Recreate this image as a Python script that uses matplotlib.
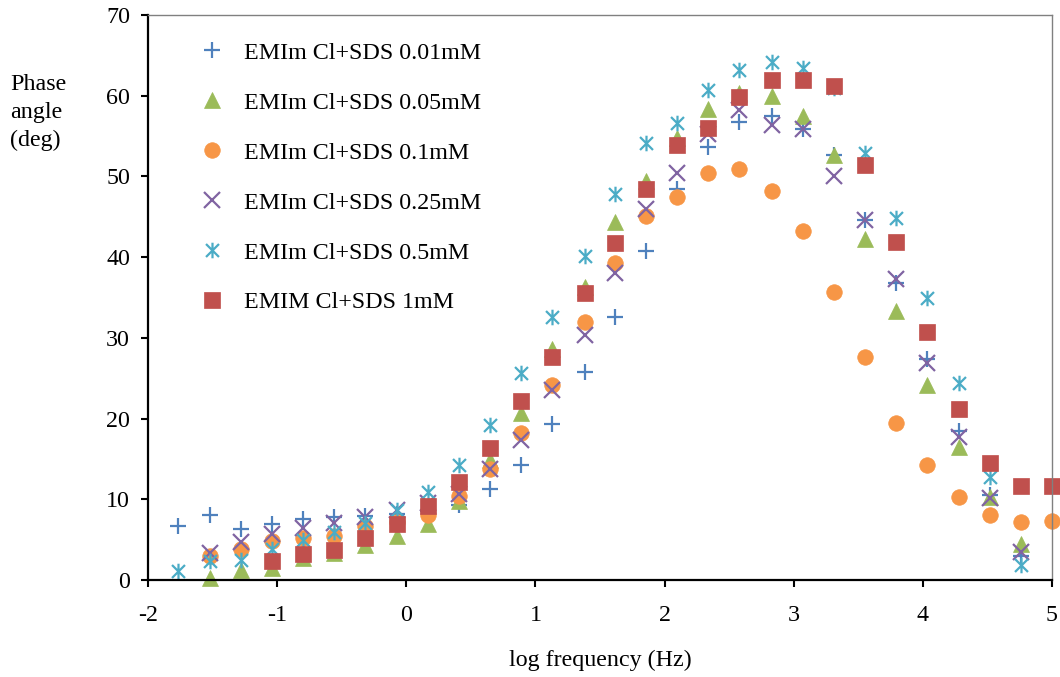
import matplotlib
matplotlib.use("Agg")
import matplotlib.pyplot as plt
from matplotlib.path import Path

plt.rcParams['font.family'] = ['Liberation Serif', 'DejaVu Serif']
plt.rcParams['axes.unicode_minus'] = False

# log frequency positions (ascending)
x_all = [-1.77, -1.52, -1.28, -1.04, -0.80, -0.56, -0.32, -0.07, 0.17, 0.41,
         0.65, 0.89, 1.13, 1.38, 1.62, 1.86, 2.10, 2.34, 2.58, 2.83,
         3.07, 3.31, 3.55, 3.79, 4.03, 4.28, 4.52, 4.76, 5.00]

labels = ["EMIm Cl+SDS 0.01mM", "EMIm Cl+SDS 0.05mM", "EMIm Cl+SDS 0.1mM",
          "EMIm Cl+SDS 0.25mM", "EMIm Cl+SDS 0.5mM", "EMIM Cl+SDS 1mM"]

y_001 = [6.7, 8.1, 6.3, 7.0, 7.6, 7.8, 7.9, 8.2, 8.6, 9.3, 11.3, 14.3, 19.3, 25.8,
         32.6, 40.8, 48.5, 53.6, 56.7, 57.5, 55.9, 52.6, 44.6, 36.8, 27.4, 18.5,
         10.5, 3.0]
x_001 = x_all[0:28]

y_005 = [0.3, 1.3, 1.5, 2.7, 3.4, 4.3, 5.4, 7.0, 9.8, 14.9, 20.7, 28.6, 36.3,
         44.4, 49.4, 54.7, 58.3, 60.3, 60.0, 57.5, 52.6, 42.2, 33.3, 24.2, 16.5,
         10.3, 4.5]
x_005 = x_all[1:28]

y_01 = [3.0, 3.8, 4.8, 5.2, 5.5, 6.7, 7.2, 8.05, 10.4, 13.7, 18.2, 24.2, 32.0,
        39.3, 45.1, 47.4, 50.4, 50.9, 48.2, 43.2, 35.7, 27.6, 19.5, 14.2, 10.3,
        8.05, 7.2, 7.35]
x_01 = x_all[1:29]

y_025 = [3.4, 4.7, 5.7, 6.5, 7.1, 7.8, 8.7, 9.5, 10.6, 13.7, 17.4, 23.5, 30.4,
         38.0, 46.0, 50.4, 55.2, 58.2, 56.4, 55.9, 50.0, 44.6, 37.3, 26.9, 17.7,
         10.2, 3.5]
x_025 = x_all[1:28]

y_05 = [1.1, 2.3, 2.5, 3.9, 5.0, 5.9, 7.1, 8.7, 10.9, 14.3, 19.2, 25.6, 32.6,
        40.1, 47.8, 54.2, 56.6, 60.7, 63.2, 64.2, 63.4, 61.0, 52.9, 44.9, 34.9,
        24.4, 12.8, 1.9]
x_05 = x_all[0:28]

y_1 = [2.35, 3.2, 3.7, 5.2, 7.0, 9.2, 12.2, 16.3, 22.2, 27.6, 35.5, 41.7, 48.4,
       53.9, 56.0, 59.9, 62.0, 61.9, 61.25, 51.4, 41.9, 30.7, 21.15, 14.45,
       11.6, 11.6]
x_1 = x_all[3:29]

colors = ['#4F81BD', '#9BBB59', '#F79646', '#8064A2', '#4BACC6', '#C0504D']

star = Path([(-1, -1), (1, 1), (-1, 1), (1, -1), (0, -1.2), (0, 1.2)],
            [Path.MOVETO, Path.LINETO, Path.MOVETO, Path.LINETO, Path.MOVETO, Path.LINETO])

fig = plt.figure(figsize=(10.6, 6.77), dpi=100)
ax = fig.add_axes([148/1060, 1 - 580/677, (1052-148)/1060, (580-15)/677])

ms = 11.2
series = [
    (x_001, y_001, '+', dict(markeredgewidth=1.6)),
    (x_005, y_005, '^', dict(markeredgewidth=0.5)),
    (x_01, y_01, 'o', dict(markeredgewidth=0.5)),
    (x_025, y_025, 'x', dict(markeredgewidth=1.6)),
    (x_05, y_05, star, dict(markeredgewidth=1.6, markerfacecolor='none')),
    (x_1, y_1, 's', dict(markeredgewidth=0.5)),
]
for (xs, ys, mk, kw), c, lab in zip(series, colors, labels):
    ax.plot(xs, ys, linestyle='none', marker=mk, markersize=ms, color=c,
            markeredgecolor=c, label=lab, clip_on=False, **kw)

ax.set_xlim(-2, 5)
ax.set_ylim(0, 70)
ax.set_xticks(range(-2, 6))
ax.set_yticks(range(0, 71, 10))
ax.tick_params(axis='both', direction='out', length=5, width=1.5, labelsize=17.3,
               colors='black')
ax.tick_params(axis='x', pad=13)
ax.tick_params(axis='y', pad=8)
for s in ['left', 'bottom']:
    ax.spines[s].set_linewidth(1.6)
    ax.spines[s].set_color('black')
for s in ['top', 'right']:
    ax.spines[s].set_linewidth(1.0)
    ax.spines[s].set_color('#808080')

ax.set_xlabel('log frequency (Hz)', fontsize=17.3, labelpad=17.2)
fig.text(10/1060, 1 - 74/677, 'Phase\nangle\n(deg)', fontsize=17.3, ha='left', va='top',
         linespacing=1.42)

leg = ax.legend(loc='upper left', bbox_to_anchor=(200/1060, 1 - 42/677),
                bbox_transform=fig.transFigure, frameon=False, fontsize=17.3,
                numpoints=1, handlelength=1.0, handletextpad=0.85,
                labelspacing=1.17, borderpad=0, borderaxespad=0)

fig.savefig('out.png', dpi=100)
